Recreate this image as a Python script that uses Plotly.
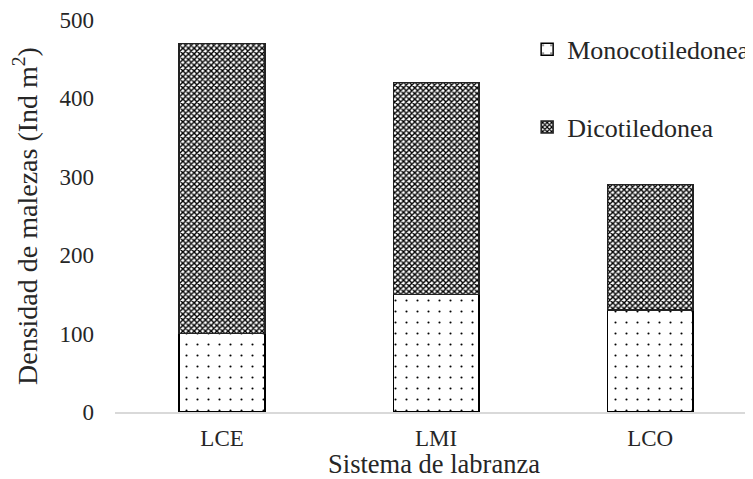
import plotly.graph_objects as go

categories = ["LCE", "LMI", "LCO"]
monocot = [100, 150, 130]
dicot = [370, 270, 160]
y_ticks = [0, 100, 200, 300, 400, 500]

FONT = "Liberation Serif"
TXT = "#262626"

fig = go.Figure()
fig.add_trace(go.Bar(
    name="Monocotiledonea", x=categories, y=monocot, legendgroup="m",
    marker=dict(color="white",
                line=dict(color="black", width=1.5),
                pattern=dict(shape=".", size=11, solidity=0.03,
                             fgcolor="black", bgcolor="white", fillmode="replace")),
))
fig.add_trace(go.Bar(
    name="Dicotiledonea", x=categories, y=dicot, legendgroup="d",
    marker=dict(color="white",
                line=dict(color="#222222", width=1.5),
                pattern=dict(shape="x", size=4, solidity=0.58,
                             fgcolor="black", bgcolor="white", fillmode="replace")),
))

fig.update_layout(
    width=745, height=471,
    barmode="stack", bargap=0.6,
    paper_bgcolor="white", plot_bgcolor="white",
    margin=dict(l=107, r=0, t=12, b=67, autoexpand=False),
    font=dict(family=FONT, color=TXT, size=23),
    showlegend=True,
    legend=dict(x=0.646, y=0.985, xanchor="left", yanchor="top",
                font=dict(size=26, family=FONT, color=TXT),
                traceorder="grouped", tracegroupgap=41,
                bgcolor="rgba(0,0,0,0)"),
    xaxis=dict(range=[-0.5, 2.48], showline=True, linecolor="#d9d9d9", linewidth=1.5,
               ticks="", ticklabelstandoff=5, showgrid=False, automargin=False,
               title=dict(text="Sistema de labranza", font=dict(size=26.5), standoff=9),
               tickfont=dict(size=23)),
    yaxis=dict(range=[0, 500], tickvals=y_ticks, showline=False, showgrid=False,
               zeroline=False, ticks="", ticklabelstandoff=20, automargin=False,
               title=dict(text="Densidad de malezas (Ind m<sup>2</sup>)",
                          font=dict(size=28), standoff=18),
               tickfont=dict(size=23)),
)

fig.write_html("out.html")
